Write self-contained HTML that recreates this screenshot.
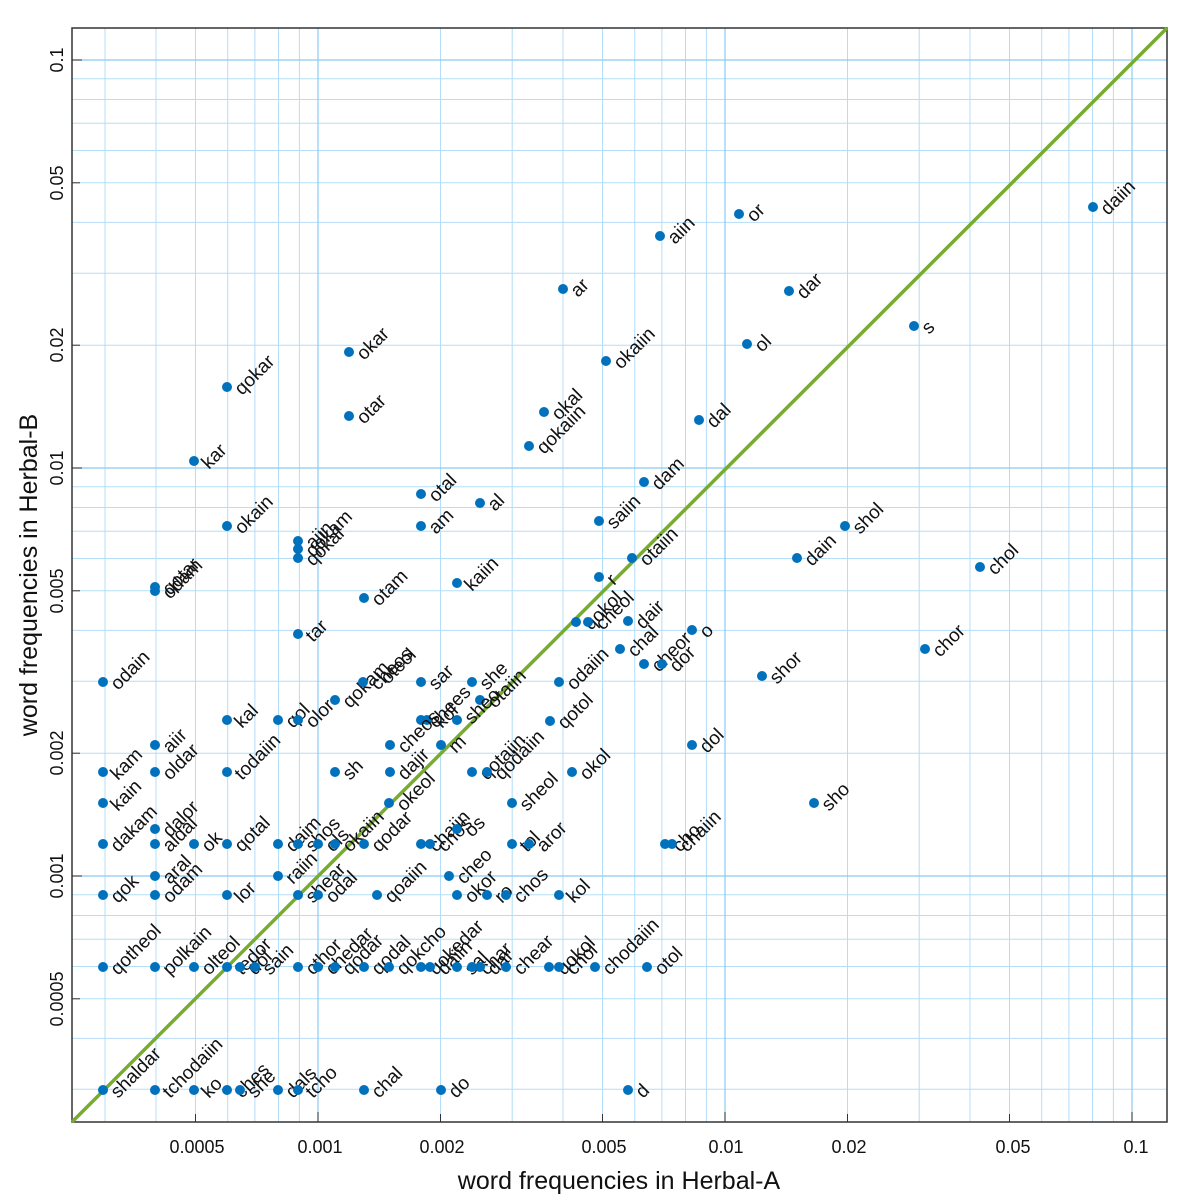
<!DOCTYPE html>
<html><head><meta charset="utf-8"><style>
html,body{margin:0;padding:0;background:#fff}
svg{display:block;font-family:"Liberation Sans",sans-serif}
.g{stroke:#b4ddf8;stroke-width:1}
.G{stroke:#8ccaf2;stroke-width:1.2}
.t{stroke:#333;stroke-width:1}
.p circle{fill:#0072bd}
.p text{font-size:19px;fill:#111}
</style></head><body>
<svg width="1200" height="1200" viewBox="0 0 1200 1200">
<rect width="1200" height="1200" fill="#fff"/>
<g class="g">
<line x1="105" y1="28" x2="105" y2="1122"/><line x1="156" y1="28" x2="156" y2="1122"/><line x1="195.5" y1="28" x2="195.5" y2="1122"/><line x1="227.7" y1="28" x2="227.7" y2="1122"/><line x1="254.9" y1="28" x2="254.9" y2="1122"/><line x1="278.5" y1="28" x2="278.5" y2="1122"/><line x1="299.4" y1="28" x2="299.4" y2="1122"/>
<line x1="440.5" y1="28" x2="440.5" y2="1122"/><line x1="512.2" y1="28" x2="512.2" y2="1122"/><line x1="563" y1="28" x2="563" y2="1122"/><line x1="602.5" y1="28" x2="602.5" y2="1122"/><line x1="634.7" y1="28" x2="634.7" y2="1122"/><line x1="661.9" y1="28" x2="661.9" y2="1122"/><line x1="685.5" y1="28" x2="685.5" y2="1122"/><line x1="706.4" y1="28" x2="706.4" y2="1122"/>
<line x1="847.5" y1="28" x2="847.5" y2="1122"/><line x1="919.2" y1="28" x2="919.2" y2="1122"/><line x1="970" y1="28" x2="970" y2="1122"/><line x1="1009.5" y1="28" x2="1009.5" y2="1122"/><line x1="1041.7" y1="28" x2="1041.7" y2="1122"/><line x1="1068.9" y1="28" x2="1068.9" y2="1122"/><line x1="1092.5" y1="28" x2="1092.5" y2="1122"/><line x1="1113.4" y1="28" x2="1113.4" y2="1122"/>
<line x1="72" y1="1089.3" x2="1167" y2="1089.3"/><line x1="72" y1="1038.4" x2="1167" y2="1038.4"/><line x1="72" y1="998.8" x2="1167" y2="998.8"/><line x1="72" y1="966.5" x2="1167" y2="966.5"/><line x1="72" y1="939.2" x2="1167" y2="939.2"/><line x1="72" y1="915.5" x2="1167" y2="915.5"/><line x1="72" y1="894.7" x2="1167" y2="894.7"/>
<line x1="72" y1="753.2" x2="1167" y2="753.2"/><line x1="72" y1="681.3" x2="1167" y2="681.3"/><line x1="72" y1="630.4" x2="1167" y2="630.4"/><line x1="72" y1="590.8" x2="1167" y2="590.8"/><line x1="72" y1="558.5" x2="1167" y2="558.5"/><line x1="72" y1="531.2" x2="1167" y2="531.2"/><line x1="72" y1="507.5" x2="1167" y2="507.5"/><line x1="72" y1="486.7" x2="1167" y2="486.7"/>
<line x1="72" y1="345.2" x2="1167" y2="345.2"/><line x1="72" y1="273.3" x2="1167" y2="273.3"/><line x1="72" y1="222.4" x2="1167" y2="222.4"/><line x1="72" y1="182.8" x2="1167" y2="182.8"/><line x1="72" y1="150.5" x2="1167" y2="150.5"/><line x1="72" y1="123.2" x2="1167" y2="123.2"/><line x1="72" y1="99.5" x2="1167" y2="99.5"/><line x1="72" y1="78.7" x2="1167" y2="78.7"/>
</g>
<g class="G">
<line x1="318" y1="28" x2="318" y2="1122"/><line x1="725" y1="28" x2="725" y2="1122"/><line x1="1132" y1="28" x2="1132" y2="1122"/>
<line x1="72" y1="876" x2="1167" y2="876"/><line x1="72" y1="468" x2="1167" y2="468"/><line x1="72" y1="60" x2="1167" y2="60"/>
</g>
<g class="t">
<line x1="195.5" y1="1122" x2="195.5" y2="1114"/><line x1="318" y1="1122" x2="318" y2="1112"/><line x1="440.5" y1="1122" x2="440.5" y2="1114"/><line x1="602.5" y1="1122" x2="602.5" y2="1114"/><line x1="725" y1="1122" x2="725" y2="1112"/><line x1="847.5" y1="1122" x2="847.5" y2="1114"/><line x1="1009.5" y1="1122" x2="1009.5" y2="1114"/><line x1="1132" y1="1122" x2="1132" y2="1112"/>
<line x1="72" y1="998.8" x2="80" y2="998.8"/><line x1="72" y1="876" x2="82" y2="876"/><line x1="72" y1="753.2" x2="80" y2="753.2"/><line x1="72" y1="590.8" x2="80" y2="590.8"/><line x1="72" y1="468" x2="82" y2="468"/><line x1="72" y1="345.2" x2="80" y2="345.2"/><line x1="72" y1="182.8" x2="80" y2="182.8"/><line x1="72" y1="60" x2="82" y2="60"/>
</g>
<rect x="72" y="28" width="1095" height="1094" fill="none" stroke="#333" stroke-width="1.5"/>
<line x1="72" y1="1122" x2="1167" y2="28" stroke="#77ac30" stroke-width="3.5"/>
<g class="p">
<circle cx="1093" cy="207" r="5"/><text transform="translate(1108,216) rotate(-45)">daiin</text>
<circle cx="739" cy="214" r="5"/><text transform="translate(754,223) rotate(-45)">or</text>
<circle cx="660" cy="236" r="5"/><text transform="translate(675,245) rotate(-45)">aiin</text>
<circle cx="563" cy="289" r="5"/><text transform="translate(578,298) rotate(-45)">ar</text>
<circle cx="789" cy="291" r="5"/><text transform="translate(804,300) rotate(-45)">dar</text>
<circle cx="914" cy="326" r="5"/><text transform="translate(929,335) rotate(-45)">s</text>
<circle cx="349" cy="352" r="5"/><text transform="translate(364,361) rotate(-45)">okar</text>
<circle cx="747" cy="344" r="5"/><text transform="translate(762,353) rotate(-45)">ol</text>
<circle cx="606" cy="361" r="5"/><text transform="translate(621,370) rotate(-45)">okaiin</text>
<circle cx="227" cy="387" r="5"/><text transform="translate(242,396) rotate(-45)">qokar</text>
<circle cx="544" cy="412" r="5"/><text transform="translate(559,421) rotate(-45)">okal</text>
<circle cx="349" cy="416" r="5"/><text transform="translate(364,425) rotate(-45)">otar</text>
<circle cx="699" cy="420" r="5"/><text transform="translate(714,429) rotate(-45)">dal</text>
<circle cx="529" cy="446" r="5"/><text transform="translate(544,455) rotate(-45)">qokaiin</text>
<circle cx="194" cy="461" r="5"/><text transform="translate(209,470) rotate(-45)">kar</text>
<circle cx="644" cy="482" r="5"/><text transform="translate(659,491) rotate(-45)">dam</text>
<circle cx="421" cy="494" r="5"/><text transform="translate(436,503) rotate(-45)">otal</text>
<circle cx="480" cy="503" r="5"/><text transform="translate(495,512) rotate(-45)">al</text>
<circle cx="599" cy="521" r="5"/><text transform="translate(614,530) rotate(-45)">saiin</text>
<circle cx="227" cy="526" r="5"/><text transform="translate(242,535) rotate(-45)">okain</text>
<circle cx="421" cy="526" r="5"/><text transform="translate(436,535) rotate(-45)">am</text>
<circle cx="845" cy="526" r="5"/><text transform="translate(860,535) rotate(-45)">shol</text>
<circle cx="298" cy="541" r="5"/><text transform="translate(313,550) rotate(-45)">aiin</text>
<circle cx="298" cy="549" r="5"/><text transform="translate(313,558) rotate(-45)">qokam</text>
<circle cx="298" cy="558" r="5"/><text transform="translate(313,567) rotate(-45)">qokal</text>
<circle cx="632" cy="558" r="5"/><text transform="translate(647,567) rotate(-45)">otaiin</text>
<circle cx="797" cy="558" r="5"/><text transform="translate(812,567) rotate(-45)">dain</text>
<circle cx="980" cy="567" r="5"/><text transform="translate(995,576) rotate(-45)">chol</text>
<circle cx="599" cy="577" r="5"/><text transform="translate(614,586) rotate(-45)">r</text>
<circle cx="155" cy="587" r="5"/><text transform="translate(170,596) rotate(-45)">qotar</text>
<circle cx="155" cy="591" r="5"/><text transform="translate(170,600) rotate(-45)">odam</text>
<circle cx="364" cy="598" r="5"/><text transform="translate(379,607) rotate(-45)">otam</text>
<circle cx="457" cy="583" r="5"/><text transform="translate(472,592) rotate(-45)">kaiin</text>
<circle cx="576" cy="622" r="5"/><text transform="translate(591,631) rotate(-45)">qokol</text>
<circle cx="588" cy="622" r="5"/><text transform="translate(603,631) rotate(-45)">cheol</text>
<circle cx="628" cy="621" r="5"/><text transform="translate(643,630) rotate(-45)">dair</text>
<circle cx="620" cy="649" r="5"/><text transform="translate(635,658) rotate(-45)">chal</text>
<circle cx="644" cy="664" r="5"/><text transform="translate(659,673) rotate(-45)">cheor</text>
<circle cx="662" cy="664" r="5"/><text transform="translate(677,673) rotate(-45)">dor</text>
<circle cx="692" cy="630" r="5"/><text transform="translate(707,639) rotate(-45)">o</text>
<circle cx="298" cy="634" r="5"/><text transform="translate(313,643) rotate(-45)">tar</text>
<circle cx="925" cy="649" r="5"/><text transform="translate(940,658) rotate(-45)">chor</text>
<circle cx="762" cy="676" r="5"/><text transform="translate(777,685) rotate(-45)">shor</text>
<circle cx="103" cy="682" r="5"/><text transform="translate(118,691) rotate(-45)">odain</text>
<circle cx="335" cy="700" r="5"/><text transform="translate(350,709) rotate(-45)">qokam</text>
<circle cx="363" cy="682" r="5"/><text transform="translate(378,691) rotate(-45)">cheos</text>
<text transform="translate(388,685) rotate(-45)" style="font-size:19px">oteol</text>
<circle cx="421" cy="682" r="5"/><text transform="translate(436,691) rotate(-45)">sar</text>
<circle cx="472" cy="682" r="5"/><text transform="translate(487,691) rotate(-45)">she</text>
<circle cx="480" cy="700" r="5"/><text transform="translate(495,709) rotate(-45)">otaiin</text>
<circle cx="559" cy="682" r="5"/><text transform="translate(574,691) rotate(-45)">odaiin</text>
<circle cx="278" cy="720" r="5"/><text transform="translate(293,729) rotate(-45)">qol</text>
<circle cx="298" cy="720" r="5"/><text transform="translate(313,729) rotate(-45)">olor</text>
<circle cx="227" cy="720" r="5"/><text transform="translate(242,729) rotate(-45)">kal</text>
<circle cx="421" cy="720" r="5"/><text transform="translate(436,729) rotate(-45)">chees</text>
<circle cx="427" cy="720" r="5"/><text transform="translate(442,729) rotate(-45)">kol</text>
<circle cx="457" cy="720" r="5"/><text transform="translate(472,725) rotate(-45)">sheo</text>
<circle cx="550" cy="721" r="5"/><text transform="translate(565,730) rotate(-45)">qotol</text>
<circle cx="155" cy="745" r="5"/><text transform="translate(170,754) rotate(-45)">aiir</text>
<circle cx="103" cy="772" r="5"/><text transform="translate(118,781) rotate(-45)">kam</text>
<circle cx="155" cy="772" r="5"/><text transform="translate(170,781) rotate(-45)">oldar</text>
<circle cx="227" cy="772" r="5"/><text transform="translate(242,781) rotate(-45)">todaiin</text>
<circle cx="335" cy="772" r="5"/><text transform="translate(350,781) rotate(-45)">sh</text>
<circle cx="390" cy="745" r="5"/><text transform="translate(405,754) rotate(-45)">cheos</text>
<circle cx="390" cy="772" r="5"/><text transform="translate(405,781) rotate(-45)">dajir</text>
<circle cx="441" cy="745" r="5"/><text transform="translate(456,754) rotate(-45)">m</text>
<circle cx="472" cy="772" r="5"/><text transform="translate(487,781) rotate(-45)">qotaiin</text>
<circle cx="487" cy="772" r="5"/><text transform="translate(502,781) rotate(-45)">qodaiin</text>
<circle cx="572" cy="772" r="5"/><text transform="translate(587,781) rotate(-45)">okol</text>
<circle cx="692" cy="745" r="5"/><text transform="translate(707,754) rotate(-45)">dol</text>
<circle cx="103" cy="803" r="5"/><text transform="translate(118,812) rotate(-45)">kain</text>
<circle cx="512" cy="803" r="5"/><text transform="translate(527,812) rotate(-45)">sheol</text>
<circle cx="389" cy="803" r="5"/><text transform="translate(404,812) rotate(-45)">okeol</text>
<circle cx="814" cy="803" r="5"/><text transform="translate(829,812) rotate(-45)">sho</text>
<circle cx="103" cy="844" r="5"/><text transform="translate(118,853) rotate(-45)">dakam</text>
<circle cx="155" cy="829" r="5"/><text transform="translate(170,838) rotate(-45)">dalor</text>
<circle cx="155" cy="844" r="5"/><text transform="translate(170,853) rotate(-45)">aldal</text>
<circle cx="194" cy="844" r="5"/><text transform="translate(209,853) rotate(-45)">ok</text>
<circle cx="227" cy="844" r="5"/><text transform="translate(242,853) rotate(-45)">qotal</text>
<circle cx="278" cy="844" r="5"/><text transform="translate(293,853) rotate(-45)">daim</text>
<circle cx="298" cy="844" r="5"/><text transform="translate(313,853) rotate(-45)">shos</text>
<circle cx="318" cy="844" r="5"/><text transform="translate(333,853) rotate(-45)">ols</text>
<circle cx="335" cy="844" r="5"/><text transform="translate(350,853) rotate(-45)">okaiin</text>
<circle cx="364" cy="844" r="5"/><text transform="translate(379,853) rotate(-45)">qodar</text>
<circle cx="421" cy="844" r="5"/><text transform="translate(436,853) rotate(-45)">chaiin</text>
<circle cx="430" cy="844" r="5"/><text transform="translate(445,853) rotate(-45)">chos</text>
<circle cx="457" cy="829" r="5"/><text transform="translate(472,838) rotate(-45)">os</text>
<circle cx="512" cy="844" r="5"/><text transform="translate(527,853) rotate(-45)">tol</text>
<circle cx="529" cy="844" r="5"/><text transform="translate(544,853) rotate(-45)">aror</text>
<circle cx="665" cy="844" r="5"/><text transform="translate(680,853) rotate(-45)">cho</text>
<circle cx="672" cy="844" r="5"/><text transform="translate(687,853) rotate(-45)">chaiin</text>
<circle cx="103" cy="895" r="5"/><text transform="translate(118,904) rotate(-45)">qok</text>
<circle cx="155" cy="876" r="5"/><text transform="translate(170,885) rotate(-45)">aral</text>
<circle cx="155" cy="895" r="5"/><text transform="translate(170,904) rotate(-45)">odam</text>
<circle cx="227" cy="895" r="5"/><text transform="translate(242,904) rotate(-45)">lor</text>
<circle cx="278" cy="876" r="5"/><text transform="translate(293,885) rotate(-45)">raiin</text>
<circle cx="298" cy="895" r="5"/><text transform="translate(313,904) rotate(-45)">shear</text>
<circle cx="318" cy="895" r="5"/><text transform="translate(333,904) rotate(-45)">odal</text>
<circle cx="377" cy="895" r="5"/><text transform="translate(392,904) rotate(-45)">qoaiin</text>
<circle cx="449" cy="876" r="5"/><text transform="translate(464,885) rotate(-45)">cheo</text>
<circle cx="457" cy="895" r="5"/><text transform="translate(472,904) rotate(-45)">okor</text>
<circle cx="487" cy="895" r="5"/><text transform="translate(502,904) rotate(-45)">ro</text>
<circle cx="506" cy="895" r="5"/><text transform="translate(521,904) rotate(-45)">chos</text>
<circle cx="559" cy="895" r="5"/><text transform="translate(574,904) rotate(-45)">kol</text>
<circle cx="103" cy="967" r="5"/><text transform="translate(118,976) rotate(-45)">qotheol</text>
<circle cx="155" cy="967" r="5"/><text transform="translate(170,976) rotate(-45)">polkain</text>
<circle cx="194" cy="967" r="5"/><text transform="translate(209,976) rotate(-45)">olteol</text>
<circle cx="227" cy="967" r="5"/><text transform="translate(242,976) rotate(-45)">tedor</text>
<circle cx="240" cy="967" r="5"/><text transform="translate(255,976) rotate(-45)">dol</text>
<circle cx="255" cy="967" r="5"/><text transform="translate(270,976) rotate(-45)">sain</text>
<circle cx="298" cy="967" r="5"/><text transform="translate(313,976) rotate(-45)">cthor</text>
<circle cx="318" cy="967" r="5"/><text transform="translate(333,976) rotate(-45)">chedar</text>
<circle cx="335" cy="967" r="5"/><text transform="translate(350,976) rotate(-45)">qodar</text>
<circle cx="364" cy="967" r="5"/><text transform="translate(379,976) rotate(-45)">qodal</text>
<circle cx="389" cy="967" r="5"/><text transform="translate(404,976) rotate(-45)">qokcho</text>
<circle cx="421" cy="967" r="5"/><text transform="translate(436,976) rotate(-45)">qokedar</text>
<circle cx="430" cy="967" r="5"/><text transform="translate(445,976) rotate(-45)">daiin</text>
<circle cx="457" cy="967" r="5"/><text transform="translate(472,976) rotate(-45)">sal</text>
<circle cx="472" cy="967" r="5"/><text transform="translate(487,976) rotate(-45)">char</text>
<circle cx="480" cy="967" r="5"/><text transform="translate(495,976) rotate(-45)">dar</text>
<circle cx="506" cy="967" r="5"/><text transform="translate(521,976) rotate(-45)">chear</text>
<circle cx="549" cy="967" r="5"/><text transform="translate(564,976) rotate(-45)">qokol</text>
<circle cx="559" cy="967" r="5"/><text transform="translate(574,976) rotate(-45)">chol</text>
<circle cx="595" cy="967" r="5"/><text transform="translate(610,976) rotate(-45)">chodaiin</text>
<circle cx="647" cy="967" r="5"/><text transform="translate(662,976) rotate(-45)">otol</text>
<circle cx="103" cy="1090" r="5"/><text transform="translate(118,1099) rotate(-45)">shaldar</text>
<circle cx="155" cy="1090" r="5"/><text transform="translate(170,1099) rotate(-45)">tchodaiin</text>
<circle cx="194" cy="1090" r="5"/><text transform="translate(209,1099) rotate(-45)">ko</text>
<circle cx="227" cy="1090" r="5"/><text transform="translate(242,1099) rotate(-45)">ches</text>
<circle cx="240" cy="1090" r="5"/><text transform="translate(255,1099) rotate(-45)">she</text>
<circle cx="278" cy="1090" r="5"/><text transform="translate(293,1099) rotate(-45)">dals</text>
<circle cx="298" cy="1090" r="5"/><text transform="translate(313,1099) rotate(-45)">tcho</text>
<circle cx="364" cy="1090" r="5"/><text transform="translate(379,1099) rotate(-45)">chal</text>
<circle cx="441" cy="1090" r="5"/><text transform="translate(456,1099) rotate(-45)">do</text>
<circle cx="628" cy="1090" r="5"/><text transform="translate(643,1099) rotate(-45)">d</text>
</g>
<g font-size="18" fill="#111" text-anchor="middle">
<text x="197" y="1153">0.0005</text><text x="320" y="1153">0.001</text><text x="442" y="1153">0.002</text><text x="604" y="1153">0.005</text><text x="726" y="1153">0.01</text><text x="849" y="1153">0.02</text><text x="1013" y="1153">0.05</text><text x="1136" y="1153">0.1</text>
<text transform="translate(63,999) rotate(-90)">0.0005</text><text transform="translate(63,876) rotate(-90)">0.001</text><text transform="translate(63,753) rotate(-90)">0.002</text><text transform="translate(63,591) rotate(-90)">0.005</text><text transform="translate(63,468) rotate(-90)">0.01</text><text transform="translate(63,345) rotate(-90)">0.02</text><text transform="translate(63,183) rotate(-90)">0.05</text><text transform="translate(63,60) rotate(-90)">0.1</text>
</g>
<text x="619" y="1189" font-size="25" fill="#111" text-anchor="middle">word frequencies in Herbal-A</text>
<text transform="translate(37,575) rotate(-90)" font-size="25" fill="#111" text-anchor="middle">word frequencies in Herbal-B</text>
</svg>
</body></html>
